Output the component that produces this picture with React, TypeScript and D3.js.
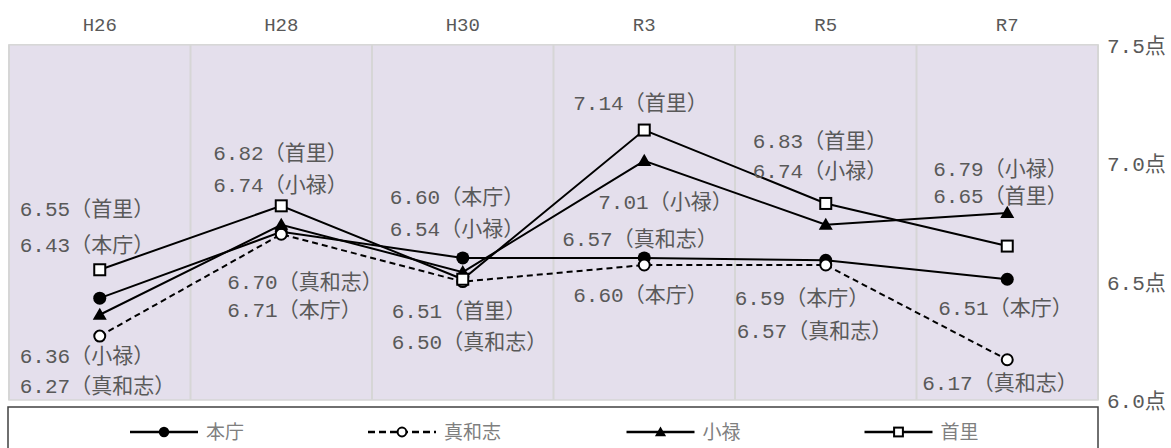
import React from "react";
import * as d3 from "d3";

// ---- data ----
const categories = ["H26", "H28", "H30", "R3", "R5", "R7"];
const seriesNames = ["本庁", "真和志", "小禄", "首里"];
const honcho = [6.43, 6.71, 6.6, 6.6, 6.59, 6.51];
const mawashi = [6.27, 6.7, 6.5, 6.57, 6.57, 6.17];
const oroku = [6.36, 6.74, 6.54, 7.01, 6.74, 6.79];
const shuri = [6.55, 6.82, 6.51, 7.14, 6.83, 6.65];
const yTicks = [6.0, 6.5, 7.0, 7.5];
const yTickSuffix = "点";

// label layout: series index, category index, x offset from column center, label center y
const labelLayout: [number, number, number, number][] = [
  [3, 0, -80, 208], [0, 0, -80, 244], [2, 0, -80, 355], [1, 0, -80, 385],
  [3, 1, -68, 152], [2, 1, -68, 184], [1, 1, -54, 281], [0, 1, -54, 309],
  [0, 2, -73, 196], [2, 2, -73, 228], [3, 2, -71, 310], [1, 2, -71, 341],
  [3, 3, -71, 102], [2, 3, -46, 201], [1, 3, -82, 238], [0, 3, -71, 294],
  [3, 4, -73, 140], [2, 4, -73, 170], [0, 4, -91, 297], [1, 4, -89, 330],
  [2, 5, -74, 168], [3, 5, -74, 195], [0, 5, -69, 307], [1, 5, -85, 382],
];

const seriesValues = [honcho, mawashi, oroku, shuri];
const markerKinds = ["dot", "ring", "tri", "square"];
const dashed = [false, true, false, false];

const W = 1171;
const H = 448;
const FONT = "'Liberation Mono', 'Noto Sans CJK JP', sans-serif";
const TEXT = "#595959";

function Marker({ kind, x, y, s = 1 }: { kind: string; x: number; y: number; s?: number }) {
  if (kind === "dot") return <circle cx={x} cy={y} r={6.5 * s} fill="#000" />;
  if (kind === "ring")
    return <circle cx={x} cy={y} r={5.5 * s} fill="#fff" stroke="#000" strokeWidth={2} />;
  if (kind === "tri") {
    const p = d3.symbol().type(d3.symbolTriangle).size(85 * s * s)();
    return <path d={p || ""} transform={`translate(${x},${y + 1})`} fill="#000" />;
  }
  const a = 11 * s;
  return (
    <rect x={x - a / 2} y={y - a / 2} width={a} height={a} fill="#fff" stroke="#000" strokeWidth={2} />
  );
}

export default function App() {
  const x = d3.scaleBand<string>().domain(categories).range([9, 1098]).padding(0);
  const y = d3.scaleLinear().domain([6.0, 7.5]).range([400, 44.8]);
  const cx = (c: string) => (x(c) as number) + x.bandwidth() / 2;
  const line = d3
    .line<number>()
    .x((_, i) => cx(categories[i]))
    .y((v) => y(v));

  const [x0, x1] = x.range();
  const boundaries = categories.map((c) => x(c) as number).concat([x1]);

  // legend layout
  const legendY = 432;
  let lx = 130;
  const legendItems = seriesNames.map((name, i) => {
    const start = lx;
    lx += 76 + name.length * 20.5 + 121;
    return { name, i, start };
  });

  return (
    <svg
      width={W}
      height={H}
      style={{ position: "absolute", left: 0, top: 0, background: "#fff" }}
      fontFamily={FONT}
    >
      {/* plot background */}
      <rect x={x0} y={y(7.5)} width={x1 - x0} height={y(6.0) - y(7.5)} fill="#E4DFEC" stroke="#D6D6D6" strokeWidth={1.5} />
      {boundaries.map((b, i) => (
        <line key={i} x1={b} x2={b} y1={y(7.5)} y2={y(6.0)} stroke="#D6D6D6" strokeWidth={2} />
      ))}

      {/* category labels on top */}
      {categories.map((c) => (
        <text key={c} x={cx(c)} y={31} textAnchor="middle" fontSize={19} fill={TEXT}>
          {c}
        </text>
      ))}

      {/* right axis labels */}
      {yTicks.map((t) => (
        <text key={t} x={1107} y={y(t) + 8} fontSize={21} fill={TEXT}>
          {t.toFixed(1) + yTickSuffix}
        </text>
      ))}

      {/* lines */}
      {seriesValues.map((vals, si) => (
        <path
          key={si}
          d={line(vals) || ""}
          fill="none"
          stroke="#000"
          strokeWidth={2}
          strokeDasharray={dashed[si] ? "6,4" : undefined}
        />
      ))}
      {/* markers */}
      {seriesValues.map((vals, si) =>
        vals.map((v, i) => (
          <Marker key={`${si}-${i}`} kind={markerKinds[si]} x={cx(categories[i])} y={y(v)} />
        ))
      )}

      {/* data labels */}
      {labelLayout.map(([si, ci, dx, ly], k) => (
        <text key={k} x={cx(categories[ci]) + dx} y={ly + 7.5} fontSize={21} fill={TEXT}>
          {seriesValues[si][ci].toFixed(2) + "（" + seriesNames[si] + "）"}
        </text>
      ))}

      {/* legend */}
      <rect x={8} y={407} width={1090} height={46} fill="#fff" stroke="#404040" strokeWidth={1.5} />
      {legendItems.map(({ name, i, start }) => (
        <g key={name}>
          <line
            x1={start}
            x2={start + 68}
            y1={legendY}
            y2={legendY}
            stroke="#000"
            strokeWidth={2.5}
            strokeDasharray={dashed[i] ? "7,4" : undefined}
          />
          <Marker kind={markerKinds[i]} x={start + 34} y={legendY} s={0.8} />
          <text x={start + 76} y={legendY + 7} fontSize={19} fill="#7F7F7F">
            {name}
          </text>
        </g>
      ))}
    </svg>
  );
}
